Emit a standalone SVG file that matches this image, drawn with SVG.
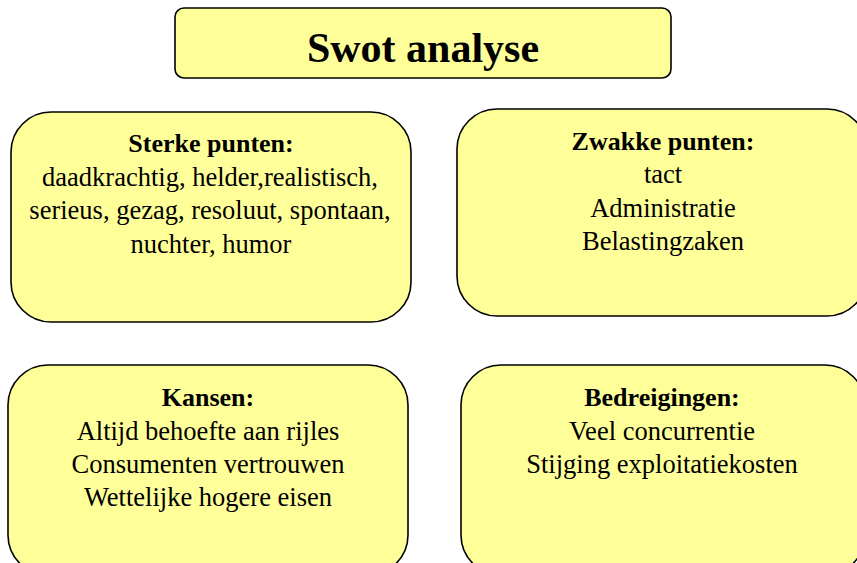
<svg xmlns="http://www.w3.org/2000/svg" width="857" height="563" viewBox="0 0 857 563">
<style>
.box{fill:#FFFF99;stroke:#000;stroke-width:1.6}
text{font-family:"Liberation Serif","Times New Roman",serif;fill:#000;text-anchor:middle}
.h{font-weight:bold;font-size:26px}
.b{font-size:26.5px}
.t{font-weight:bold;font-size:42px}
</style>
<g id="title">
<rect class="box" x="175" y="8" width="496" height="70" rx="9"/>
<text class="t" x="423" y="62">Swot analyse</text>
</g>
<g id="sterke">
<rect class="box" x="11" y="112" width="400" height="210" rx="40"/>
<text class="h" x="211" y="152">Sterke punten:</text>
<text class="b" x="210" y="186">daadkrachtig, helder,realistisch,</text>
<text class="b" x="210" y="219">serieus, gezag, resoluut, spontaan,</text>
<text class="b" x="211" y="253">nuchter, humor</text>
</g>
<g id="zwakke">
<rect class="box" x="457" y="109" width="410" height="207" rx="40"/>
<text class="h" x="663" y="150">Zwakke punten:</text>
<text class="b" x="663" y="183">tact</text>
<text class="b" x="663" y="217">Administratie</text>
<text class="b" x="663" y="250">Belastingzaken</text>
</g>
<g id="kansen">
<rect class="box" x="8" y="365" width="400" height="210" rx="40"/>
<text class="h" x="208" y="406">Kansen:</text>
<text class="b" x="208" y="440">Altijd behoefte aan rijles</text>
<text class="b" x="208" y="473">Consumenten vertrouwen</text>
<text class="b" x="208" y="506">Wettelijke hogere eisen</text>
</g>
<g id="bedreigingen">
<rect class="box" x="461" y="365" width="404" height="210" rx="40"/>
<text class="h" x="662" y="406">Bedreigingen:</text>
<text class="b" x="662" y="440">Veel concurrentie</text>
<text class="b" x="662" y="473">Stijging exploitatiekosten</text>
</g>
<g id="connectors"/>
</svg>
